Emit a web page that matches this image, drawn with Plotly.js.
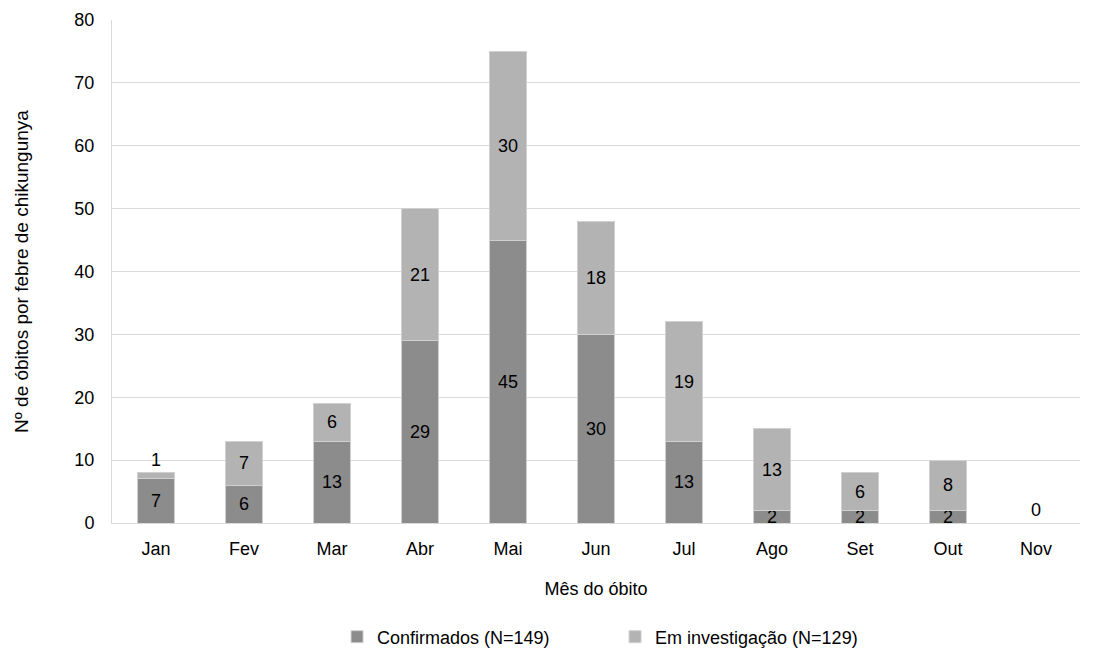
<!DOCTYPE html>
<html>
<head>
<meta charset="utf-8">
<script src="https://cdn.plot.ly/plotly-3.0.1.min.js"></script>
<style>html,body{margin:0;padding:0;background:#fff;}#chart{width:1100px;height:650px;}</style>
</head>
<body>
<div id="chart"></div>
<script>
const months = ["Jan","Fev","Mar","Abr","Mai","Jun","Jul","Ago","Set","Out","Nov"];
const confirmados = [7,6,13,29,45,30,13,2,2,2,0];
const investigacao = [1,7,6,21,30,18,19,13,6,8,0];
const confLabels = ["7","6","13","29","45","30","13","2","2","2",""];
const invLabels = ["1","7","6","21","30","18","19","13","6","8","0"];
const invPos = ["outside","inside","inside","inside","inside","inside","inside","inside","inside","inside","outside"];

const font = "Liberation Sans, Arial, sans-serif";

const traces = [
  {
    type: "bar", name: "Confirmados (N=149)", x: months, y: confirmados,
    text: confLabels, textposition: "inside", insidetextanchor: "middle",
    constraintext: "none", cliponaxis: false, textangle: 0,
    textfont: {family: font, size: 18, color: "#000"},
    marker: {color: "#8c8c8c", line: {color: "#d0d0d0", width: 1}},
    hoverinfo: "none"
  },
  {
    type: "bar", name: "Em investigação (N=129)", x: months, y: investigacao,
    text: invLabels, textposition: invPos, insidetextanchor: "middle",
    constraintext: "none", cliponaxis: false, textangle: 0,
    textfont: {family: font, size: 18, color: "#000"},
    marker: {color: "#b3b3b3", line: {color: "#d0d0d0", width: 1}},
    hoverinfo: "none"
  }
];

const layout = {
  width: 1100, height: 650,
  margin: {l: 112, r: 20, t: 20, b: 127, autoexpand: false},
  barmode: "stack", bargap: 0.58,
  paper_bgcolor: "#fff", plot_bgcolor: "#fff",
  font: {family: font, size: 18, color: "#000"},
  showlegend: true,
  legend: {
    orientation: "h", xref: "container", yref: "container",
    x: 0.3064, xanchor: "left", y: 0.02, yanchor: "middle",
    font: {family: font, size: 18, color: "#000"},
    entrywidth: 233, entrywidthmode: "pixels", traceorder: "normal"
  },
  xaxis: {
    type: "category", automargin: false,
    showgrid: false, showline: true, linecolor: "#d9d9d9", linewidth: 1,
    ticks: "", ticklabelstandoff: 9,
    tickfont: {family: font, size: 18, color: "#000"},
    title: {text: "Mês do óbito", font: {family: font, size: 18, color: "#000"}, standoff: 24}
  },
  yaxis: {
    range: [0, 80], dtick: 10, tick0: 0, automargin: false,
    showgrid: true, gridcolor: "#d9d9d9", gridwidth: 1,
    showline: true, linecolor: "#d9d9d9", linewidth: 1,
    zeroline: false, ticks: "", ticklabelstandoff: 13,
    tickfont: {family: font, size: 18, color: "#000"},
    title: {text: "Nº de óbitos por febre de chikungunya", font: {family: font, size: 19, color: "#000"}, standoff: 40}
  }
};

Plotly.newPlot("chart", traces, layout, {displayModeBar: false, staticPlot: true});
</script>
</body>
</html>
